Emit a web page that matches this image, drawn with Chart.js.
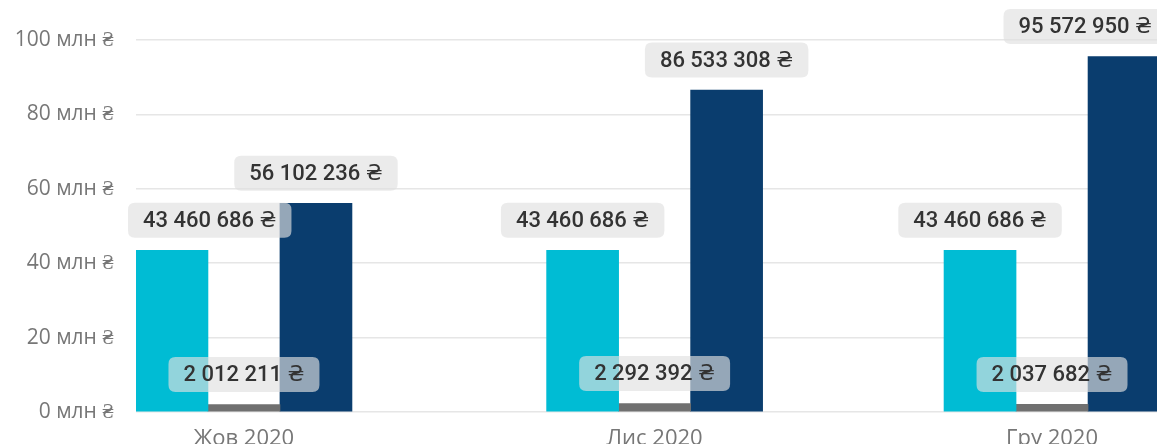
<!DOCTYPE html>
<html>
<head>
<meta charset="utf-8">
<script src="https://cdn.jsdelivr.net/npm/chart.js@4"></script>
<style>
  html, body { margin: 0; padding: 0; background: #fff; overflow: hidden; }
  #wrap { position: absolute; left: 0; top: 0; width: 1175px; height: 450px; }
</style>
</head>
<body>
<div id="wrap"><canvas id="chart" width="1175" height="450"></canvas></div>
<script>
// Months shown on the x axis
var months = ['2020-10-01', '2020-11-01', '2020-12-01'];
var monthLabels = ['Жов 2020', 'Лис 2020', 'Гру 2020'];

// Series values, hryvnia
var planned = [43460686, 43460686, 43460686];
var small = [2012211, 2292392, 2037682];
var actual = [56102236, 86533308, 95572950];

// Y axis ticks, millions
var yTicks = [0, 20, 40, 60, 80, 100];

// Days since first month, so bars sit on a time-like axis
var day0 = Date.parse(months[0]);
var days = months.map(function(m) { return Math.round((Date.parse(m) - day0) / 86400000); });

function points(vals) {
  return vals.map(function(v, i) { return {x: days[i], y: v}; });
}

function money(v) {
  return String(v).replace(/\B(?=(\d{3})+(?!\d))/g, ' ') + ' ₴';
}

function roundRect(ctx, x, y, w, h, r) {
  ctx.beginPath();
  ctx.moveTo(x + r, y);
  ctx.lineTo(x + w - r, y);
  ctx.quadraticCurveTo(x + w, y, x + w, y + r);
  ctx.lineTo(x + w, y + h - r);
  ctx.quadraticCurveTo(x + w, y + h, x + w - r, y + h);
  ctx.lineTo(x + r, y + h);
  ctx.quadraticCurveTo(x, y + h, x, y + h - r);
  ctx.lineTo(x, y + r);
  ctx.quadraticCurveTo(x, y, x + r, y);
  ctx.closePath();
}

// Value boxes above each bar, kept inside the plot area
var valueBoxes = {
  id: 'valueBoxes',
  afterDatasetsDraw: function(chart) {
    var ctx = chart.ctx;
    var area = chart.chartArea;
    ctx.save();
    ctx.font = '500 22px Roboto, "DejaVu Sans"';
    ctx.textBaseline = 'middle';
    ctx.textAlign = 'center';
    chart.data.datasets.forEach(function(ds, di) {
      chart.getDatasetMeta(di).data.forEach(function(bar, i) {
        var text = money(ds.data[i].y);
        var w = ctx.measureText(text).width + 30;
        var h = 35;
        var cy = bar.y - 30;
        var x = bar.x - w / 2;
        if (x < area.left - 8) x = area.left - 8;
        if (x + w > area.right + 7) x = area.right + 7 - w;
        ctx.fillStyle = 'rgba(225,225,225,0.65)';
        roundRect(ctx, x, cy - h / 2, w, h, 7);
        ctx.fill();
        ctx.fillStyle = '#333333';
        ctx.fillText(text, x + w / 2, cy + 1);
      });
    });
    ctx.restore();
  }
};

var pad = 8.15;

new Chart('chart', {
  type: 'bar',
  data: {
    datasets: [
      {data: points(planned), backgroundColor: '#00bcd4', barThickness: 72},
      {data: points(small), backgroundColor: '#707070', barThickness: 72},
      {data: points(actual), backgroundColor: '#0a3d6e', barThickness: 72}
    ]
  },
  options: {
    responsive: false,
    animation: false,
    devicePixelRatio: 1,
    layout: {padding: {top: 40, right: 15, bottom: 6, left: 0}},
    plugins: {
      legend: {display: false},
      tooltip: {enabled: false}
    },
    scales: {
      x: {
        type: 'linear',
        min: days[0] - pad,
        max: days[days.length - 1] + pad,
        offset: false,
        grid: {display: false},
        border: {display: false},
        afterBuildTicks: function(s) {
          s.ticks = days.map(function(d) { return {value: d}; });
        },
        afterFit: function(s) { s.height = 32; },
        ticks: {
          autoSkip: false,
          maxRotation: 0,
          padding: 6,
          color: '#777777',
          font: {family: 'Open Sans', size: 22},
          callback: function(v) {
            var k = days.indexOf(v);
            return k >= 0 ? monthLabels[k] : '';
          }
        }
      },
      y: {
        min: 0,
        max: yTicks[yTicks.length - 1] * 1e6,
        afterBuildTicks: function(s) {
          s.ticks = yTicks.map(function(t) { return {value: t * 1e6}; });
        },
        afterFit: function(s) { s.width = 136; },
        grid: {color: '#e6e6e6', lineWidth: 1.5, drawTicks: false},
        border: {display: false},
        ticks: {
          padding: 22,
          color: '#777777',
          font: {family: 'Open Sans', size: 21},
          callback: function(v) { return (v / 1e6) + ' млн ₴'; }
        }
      }
    }
  },
  plugins: [valueBoxes]
});
</script>
</body>
</html>
